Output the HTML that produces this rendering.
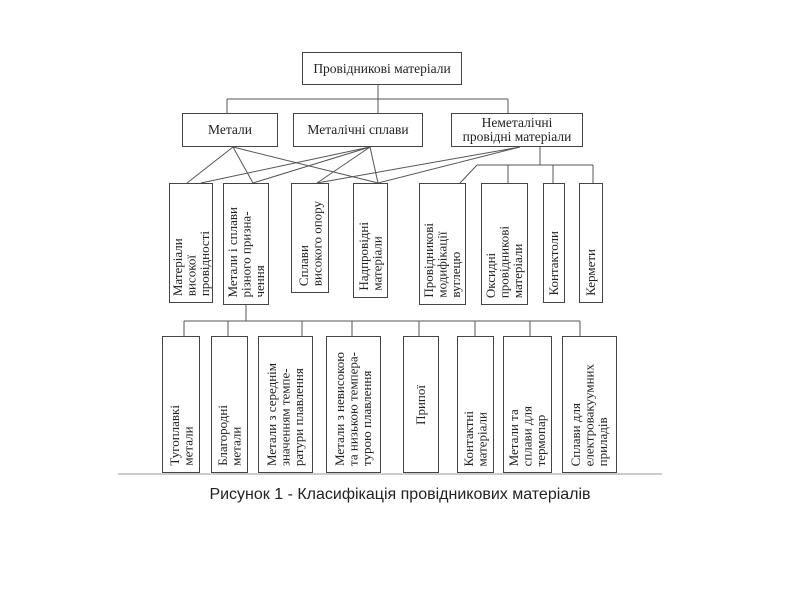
<!DOCTYPE html>
<html><head><meta charset="utf-8"><style>
body{margin:0;width:800px;height:600px;background:#fff;position:relative;overflow:hidden}
.b{position:absolute;border:1px solid #444;box-sizing:border-box;font-family:"Liberation Serif",serif;color:#222;font-size:13.5px;line-height:14px;text-align:center;display:flex;align-items:center;justify-content:center}
.v{position:absolute;border:1px solid #444;box-sizing:border-box;font-family:"Liberation Serif",serif;color:#222;font-size:13px;line-height:13.5px;display:flex;justify-content:center;align-items:flex-end;padding-bottom:6px}
.v span{writing-mode:vertical-rl;transform:rotate(180deg);text-align:left;white-space:nowrap}
.cap{position:absolute;left:0;width:800px;top:486px;text-align:center;font-family:"Liberation Sans",sans-serif;font-size:16px;color:#222}
</style></head><body>
<svg width="800" height="600" style="position:absolute;left:0;top:0" stroke="#555" stroke-width="1" fill="none">
<path d="M378 85V113M227 99H508M227 99V113M508 99V113"/>
<path d="M233 147L187 183M233 147L253 183M233 147L378 183"/>
<path d="M370 147L201 183M370 147L253 183M370 147L317 183M370 147L378 183"/>
<path d="M520 147L317 183M520 147L378 183"/>
<path d="M540 147V165M477 165H593M477 165L460 183M508 165V183M553 165V183M593 165V183"/>
<path d="M246 305V321M184 321H580M184 321V336M228 321V336M302 321V336M352 321V336M419 321V336M475 321V336M530 321V336M580 321V336"/>
<path d="M118 474H662" stroke="#999"/>
</svg>
<div class="b" style="left:302px;top:52px;width:160px;height:33px">Провідникові матеріали</div>
<div class="b" style="left:182px;top:113px;width:96px;height:34px">Метали</div>
<div class="b" style="left:293px;top:113px;width:130px;height:34px">Металічні сплави</div>
<div class="b" style="left:451px;top:113px;width:132px;height:34px">Неметалічні<br>провідні матеріали</div>

<div class="v" style="left:169px;top:183px;width:44px;height:120px"><span>Матеріали<br>високої<br>провідності</span></div>
<div class="v" style="left:223px;top:183px;width:46px;height:122px"><span>Метали і сплави<br>різного призна-<br>чення</span></div>
<div class="v" style="left:291px;top:183px;width:38px;height:110px"><span>Сплави<br>високого опору</span></div>
<div class="v" style="left:353px;top:183px;width:35px;height:115px"><span>Надпровідні<br>матеріали</span></div>
<div class="v" style="left:419px;top:183px;width:47px;height:122px"><span>Провідникові<br>модифікації<br>вуглецю</span></div>
<div class="v" style="left:481px;top:183px;width:47px;height:122px"><span>Оксидні<br>провідникові<br>матеріали</span></div>
<div class="v" style="left:543px;top:183px;width:22px;height:120px"><span>Контактоли</span></div>
<div class="v" style="left:579px;top:183px;width:24px;height:120px"><span>Кермети</span></div>

<div class="v" style="left:162px;top:336px;width:38px;height:137px"><span>Тугоплавкі<br>метали</span></div>
<div class="v" style="left:211px;top:336px;width:37px;height:137px"><span>Благородні<br>метали</span></div>
<div class="v" style="left:258px;top:336px;width:55px;height:137px"><span>Метали з середнім<br>значенням темпе-<br>ратури плавлення</span></div>
<div class="v" style="left:326px;top:336px;width:55px;height:137px"><span>Метали з невисокою<br>та низькою темпера-<br>турою плавлення</span></div>
<div class="v" style="left:403px;top:336px;width:36px;height:137px;align-items:center;padding-bottom:0"><span>Припої</span></div>
<div class="v" style="left:457px;top:336px;width:37px;height:137px"><span>Контактні<br>матеріали</span></div>
<div class="v" style="left:503px;top:336px;width:49px;height:137px"><span>Метали та<br>сплави для<br>термопар</span></div>
<div class="v" style="left:562px;top:336px;width:55px;height:137px"><span>Сплави для<br>електровакуумних<br>приладів</span></div>

<div class="cap">Рисунок 1 - Класифікація провідникових матеріалів</div>
</body></html>
